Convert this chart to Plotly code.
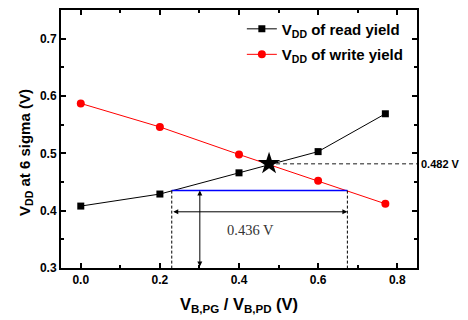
import plotly.graph_objects as go

# Data
x_ratio = [0.0, 0.2, 0.4, 0.6, 0.77]
vdd_read = [0.408, 0.429, 0.466, 0.503, 0.569]
vdd_write = [0.587, 0.546, 0.498, 0.452, 0.412]
cross_x = [0.476]
cross_y = [0.482]
limit_y = 0.435
limit_x = [0.23, 0.674]
arrow_y = 0.398
arrow_x = 0.301
label_cross = "0.482 V"
label_window = "0.436 V"

font_main = "Liberation Sans, Arial, sans-serif"

fig = go.Figure()
fig.add_trace(go.Scatter(
    x=x_ratio, y=vdd_read, mode="lines+markers",
    name="V<sub>DD</sub> of read yield", legendgroup="read",
    line=dict(color="black", width=1),
    marker=dict(symbol="square", size=7, color="black"),
))
fig.add_trace(go.Scatter(
    x=x_ratio, y=vdd_write, mode="lines+markers",
    name="V<sub>DD</sub> of write yield", legendgroup="write",
    line=dict(color="red", width=1),
    marker=dict(symbol="circle", size=8, color="red"),
))
# dashed horizontal from crossing to right axis
fig.add_trace(go.Scatter(
    x=[cross_x[0], 0.85], y=[cross_y[0], cross_y[0]], mode="lines",
    line=dict(color="#666666", width=1.5, dash="4px,3px"), showlegend=False, hoverinfo="skip",
    cliponaxis=False,
))
# blue limit line
fig.add_trace(go.Scatter(
    x=limit_x, y=[limit_y, limit_y], mode="lines",
    line=dict(color="blue", width=1.5), showlegend=False, hoverinfo="skip",
))
# dashed verticals
for xv in limit_x:
    fig.add_trace(go.Scatter(
        x=[xv, xv], y=[limit_y, 0.3], mode="lines",
        line=dict(color="black", width=1, dash="3px,2px"), showlegend=False, hoverinfo="skip",
    ))
# star
fig.add_trace(go.Scatter(
    x=cross_x, y=cross_y, mode="markers",
    marker=dict(symbol="star", size=17, color="black"), showlegend=False,
))

# double arrows
fig.add_annotation(x=limit_x[1], y=arrow_y, ax=limit_x[0], ay=arrow_y,
                   xref="x", yref="y", axref="x", ayref="y", text="",
                   showarrow=True, arrowhead=2, arrowside="end+start",
                   arrowsize=1, arrowwidth=1, arrowcolor="black")
fig.add_annotation(x=arrow_x, y=limit_y, ax=arrow_x, ay=0.3,
                   xref="x", yref="y", axref="x", ayref="y", text="",
                   showarrow=True, arrowhead=2, arrowside="end+start",
                   arrowsize=1, arrowwidth=1, arrowcolor="black")
fig.add_annotation(x=0.43, y=0.367, xref="x", yref="y", text=label_window,
                   showarrow=False,
                   font=dict(family="Liberation Serif, Times New Roman, serif", size=14.5, color="#333333"))
fig.add_annotation(x=1.0, y=cross_y[0], xref="paper", yref="y", text=label_cross,
                   xanchor="left", xshift=2, showarrow=False,
                   font=dict(family=font_main, size=11, color="black", weight="bold"))
# y axis title (placed as annotation to match the reference's lower placement)
fig.add_annotation(x=0, y=0.446, xref="paper", yref="paper", text="V<sub>DD</sub> at 6 sigma (V)",
                   textangle=-90, xanchor="center", yanchor="middle", xshift=-35, showarrow=False,
                   font=dict(family=font_main, size=15, color="black", weight="bold"))

axis_common = dict(
    showline=True, linecolor="black", linewidth=2, mirror="allticks",
    ticks="inside", ticklen=5, tickwidth=1.5, tickcolor="black",
    showgrid=False, zeroline=False,
    tickfont=dict(family=font_main, size=12, color="black", weight="bold"),
)
fig.update_xaxes(range=[-0.05, 0.85], dtick=0.2, tick0=0, tickformat=".1f",
                 minor=dict(ticks="inside", ticklen=3, dtick=0.1, tickcolor="black", tickwidth=1.5),
                 title=dict(text="V<sub>B,PG</sub> / V<sub>B,PD</sub> (V)",
                            font=dict(family=font_main, size=16.5, color="black", weight="bold"),
                            standoff=12),
                 **axis_common)
fig.update_yaxes(range=[0.3, 0.75], dtick=0.1, tick0=0.3, tickformat=".1f",
                 minor=dict(ticks="inside", ticklen=3, dtick=0.05, tickcolor="black", tickwidth=1.5),
                 **axis_common)

# page has an 8px body margin, so the figure is drawn 8px in from the top-left
fig.update_layout(
    width=460, height=312,
    margin=dict(l=53, r=51, t=0, b=52),
    plot_bgcolor="white", paper_bgcolor="white",
    legend=dict(x=0.508, y=0.99, xanchor="left", yanchor="top", bgcolor="rgba(0,0,0,0)",
                itemwidth=30, tracegroupgap=3,
                font=dict(family=font_main, size=15, color="black", weight="bold")),
)

fig.write_html("out.html")
